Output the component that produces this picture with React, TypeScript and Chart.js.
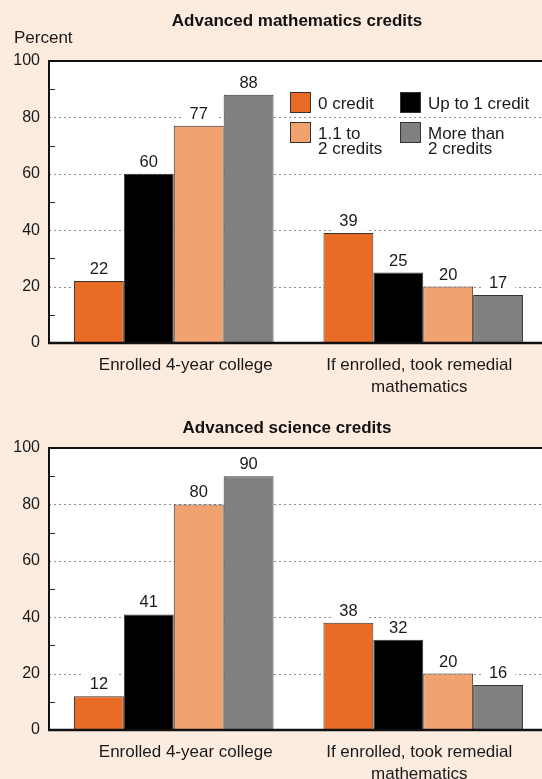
import React, { useEffect, useRef } from "react";
import { Chart, registerables } from "chart.js";

Chart.register(...registerables);

// ---- data ----
const categories: string[][] = [
  ["Enrolled 4-year college"],
  ["If enrolled, took remedial", "mathematics"],
];
const seriesNames = ["0 credit", "Up to 1 credit", "1.1 to 2 credits", "More than 2 credits"];
const legendLines: string[][] = [["0 credit"], ["Up to 1 credit"], ["1.1 to", "2 credits"], ["More than", "2 credits"]];
const seriesColors = ["#E86C25", "#000000", "#F0A26F", "#808080"];

const mathZero = [22, 39];
const mathUpTo1 = [60, 25];
const mathMid = [77, 20];
const mathMore = [88, 17];

const sciZero = [12, 38];
const sciUpTo1 = [41, 32];
const sciMid = [80, 20];
const sciMore = [90, 16];

const yTicks = [0, 20, 40, 60, 80, 100];
const gridValues = [20, 40, 60, 80];
const minorTicks = [10, 30, 50, 70, 90];

const FONT = '"Liberation Sans", Arial, Helvetica, sans-serif';
const BG = "#FCEBDF";

type PanelOpts = {
  title: string;
  titleX: number;
  titleY: number;
  showPercent: boolean;
  showLegend: boolean;
  labelDx: number[];
};

const decorPlugin = {
  id: "decor",
  beforeDatasetsDraw(chart: any, _a: any, o: PanelOpts) {
    const { ctx, chartArea: a } = chart;
    const y = chart.scales.y;
    ctx.save();
    ctx.fillStyle = "#ffffff";
    ctx.fillRect(a.left, a.top, a.right - a.left, a.bottom - a.top);
    ctx.strokeStyle = "#8c8c8c";
    ctx.lineWidth = 1;
    ctx.setLineDash([2, 3]);
    for (const v of gridValues) {
      const py = Math.round(y.getPixelForValue(v)) + 0.5;
      ctx.beginPath();
      ctx.moveTo(a.left, py);
      ctx.lineTo(a.right, py);
      ctx.stroke();
    }
    ctx.setLineDash([]);
    ctx.strokeStyle = "#222";
    for (const v of minorTicks) {
      const py = Math.round(y.getPixelForValue(v)) + 0.5;
      ctx.beginPath();
      ctx.moveTo(a.left, py);
      ctx.lineTo(a.left + 6, py);
      ctx.stroke();
    }
    ctx.restore();
  },
  afterDatasetsDraw(chart: any, _a: any, o: PanelOpts) {
    const { ctx, chartArea: a } = chart;
    const x = chart.scales.x;
    ctx.save();
    // value labels
    ctx.font = `16.5px ${FONT}`;
    ctx.textAlign = "center";
    ctx.textBaseline = "alphabetic";
    chart.data.datasets.forEach((ds: any, di: number) => {
      const meta = chart.getDatasetMeta(di);
      meta.data.forEach((bar: any, i: number) => {
        const txt = String(ds.data[i]);
        const w = ctx.measureText(txt).width;
        const by = bar.y;
        ctx.fillStyle = "#ffffff";
        ctx.fillRect(bar.x - w / 2 - 8, by - 22, w + 16, 21);
        ctx.fillStyle = "#1a1a1a";
        ctx.fillText(txt, bar.x, by - 7);
      });
    });
    // frame
    ctx.strokeStyle = "#111";
    ctx.lineWidth = 2;
    ctx.beginPath();
    ctx.moveTo(a.left, a.bottom);
    ctx.lineTo(a.left, a.top);
    ctx.lineTo(a.right, a.top);
    ctx.lineTo(a.right, a.bottom);
    ctx.stroke();
    ctx.lineWidth = 2.5;
    ctx.beginPath();
    ctx.moveTo(a.left - 1, a.bottom);
    ctx.lineTo(a.right, a.bottom);
    ctx.stroke();
    // category labels
    ctx.fillStyle = "#1a1a1a";
    ctx.font = `17px ${FONT}`;
    categories.forEach((lines, i) => {
      const cx = x.getPixelForValue(i) + (o.labelDx[i] || 0);
      lines.forEach((ln, li) => {
        ctx.fillText(ln, cx, a.bottom + 27 + li * 21.5);
      });
    });
    // title
    ctx.font = `bold 17px ${FONT}`;
    ctx.fillStyle = "#111";
    ctx.fillText(o.title, o.titleX, o.titleY);
    ctx.font = `17px ${FONT}`;
    if (o.showPercent) {
      ctx.textAlign = "left";
      ctx.fillStyle = "#1a1a1a";
      ctx.fillText("Percent", 14, 43);
    }
    if (o.showLegend) {
      ctx.textAlign = "left";
      const cols = [290, 400];
      const rows = [92, 122];
      legendLines.forEach((lines, i) => {
        const bx = cols[i % 2];
        const by = rows[Math.floor(i / 2)];
        ctx.fillStyle = seriesColors[i];
        ctx.fillRect(bx, by, 21, 21);
        ctx.strokeStyle = "#333";
        ctx.lineWidth = 1;
        ctx.strokeRect(bx + 0.5, by + 0.5, 20, 20);
        ctx.fillStyle = "#1a1a1a";
        lines.forEach((ln, li) => {
          ctx.fillText(ln, bx + 28, by + 16.5 + li * 15.5);
        });
      });
    }
    ctx.restore();
  },
};

function Panel(props: {
  series: number[][];
  width: number;
  height: number;
  padTop: number;
  padBottom: number;
  opts: PanelOpts;
}) {
  const ref = useRef<HTMLCanvasElement>(null);
  useEffect(() => {
    if (!ref.current) return;
    const chart = new Chart(ref.current, {
      type: "bar",
      data: {
        labels: categories.map((c) => c.join(" ")),
        datasets: props.series.map((d, i) => ({
          label: seriesNames[i],
          data: d,
          backgroundColor: seriesColors[i],
          borderColor: "#333333",
          borderWidth: 1,
          categoryPercentage: 0.8,
          barPercentage: 1.0,
        })),
      },
      options: {
        animation: false,
        responsive: false,
        maintainAspectRatio: false,
        layout: { padding: { left: 0, right: 2, top: props.padTop, bottom: props.padBottom } },
        plugins: {
          legend: { display: false },
          title: { display: false },
          tooltip: { enabled: false },
          decor: props.opts as any,
        } as any,
        scales: {
          x: { display: false },
          y: {
            min: 0,
            max: 100,
            afterBuildTicks: (s: any) => {
              s.ticks = yTicks.map((v) => ({ value: v }));
            },
            afterFit: (s: any) => {
              s.width = 49;
            },
            grid: { display: false, drawTicks: false },
            border: { display: false },
            ticks: {
              font: { family: FONT, size: 16 },
              color: "#1a1a1a",
              padding: 9,
            },
          },
        },
      },
      plugins: [decorPlugin],
    });
    return () => chart.destroy();
  }, []);
  return <canvas ref={ref} width={props.width} height={props.height} style={{ display: "block" }} />;
}

export default function App() {
  return (
    <div
      style={{
        position: "absolute",
        left: 0,
        top: 0,
        width: 542,
        height: 779,
        overflow: "hidden",
        background: BG,
      }}
    >
      <Panel
        series={[mathZero, mathUpTo1, mathMid, mathMore]}
        width={550}
        height={400}
        padTop={61}
        padBottom={57}
        opts={{
          title: "Advanced mathematics credits",
          titleX: 297,
          titleY: 26,
          showPercent: true,
          showLegend: true,
          labelDx: [12, -4],
        }}
      />
      <Panel
        series={[sciZero, sciUpTo1, sciMid, sciMore]}
        width={550}
        height={379}
        padTop={48}
        padBottom={49}
        opts={{
          title: "Advanced science credits",
          titleX: 287,
          titleY: 33,
          showPercent: false,
          showLegend: false,
          labelDx: [12, -4],
        }}
      />
    </div>
  );
}
